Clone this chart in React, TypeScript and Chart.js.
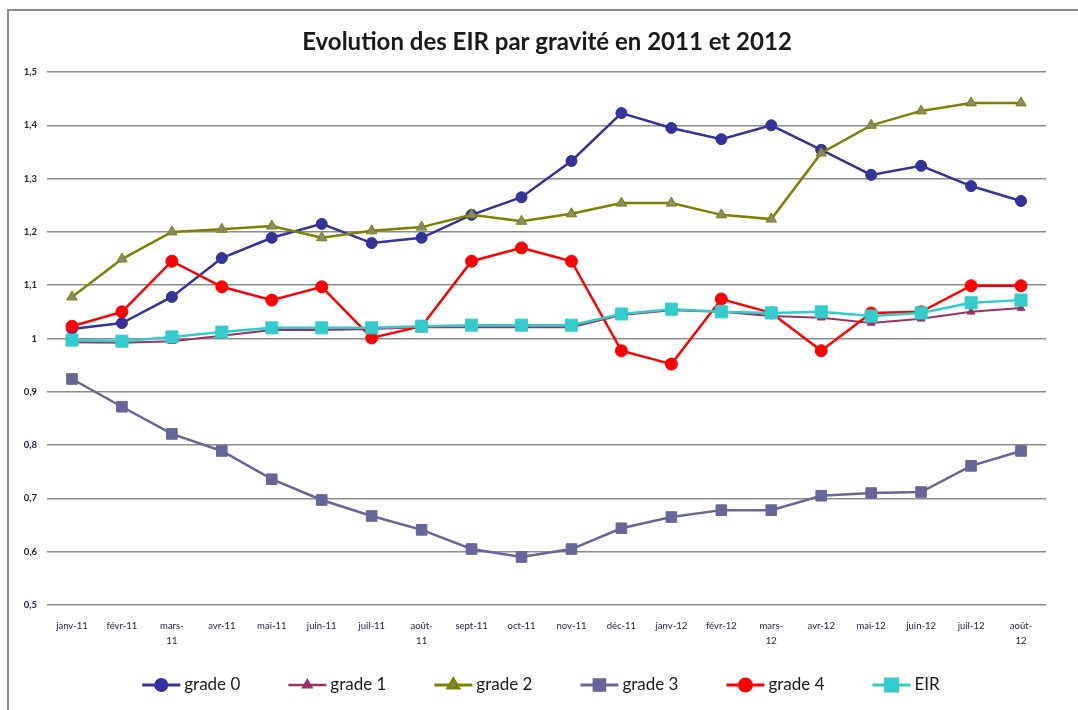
import React, { useEffect, useRef } from "react";
import { Chart, registerables } from "chart.js";
import { drawPoint } from "chart.js/helpers";

Chart.register(...registerables);

const chartTitle = "Evolution des EIR par gravité en 2011 et 2012";

const categories: (string | string[])[] = [
  "janv-11", "févr-11", ["mars-", "11"], "avr-11", "mai-11", "juin-11", "juil-11", ["août-", "11"],
  "sept-11", "oct-11", "nov-11", "déc-11", "janv-12", "févr-12", ["mars-", "12"], "avr-12",
  "mai-12", "juin-12", "juil-12", ["août-", "12"],
];

const yTickLabels = ["0,5", "0,6", "0,7", "0,8", "0,9", "1", "1,1", "1,2", "1,3", "1,4", "1,5"];

const grade0 = [1.018, 1.029, 1.078, 1.151, 1.189, 1.215, 1.179, 1.189, 1.232, 1.265, 1.333, 1.423, 1.395, 1.374, 1.400, 1.354, 1.307, 1.324, 1.286, 1.258];
const grade1 = [0.993, 0.992, 0.995, 1.005, 1.016, 1.016, 1.018, 1.021, 1.021, 1.021, 1.021, 1.044, 1.053, 1.050, 1.042, 1.039, 1.029, 1.037, 1.050, 1.057];
const grade2 = [1.078, 1.149, 1.200, 1.205, 1.211, 1.189, 1.202, 1.209, 1.232, 1.220, 1.234, 1.254, 1.254, 1.232, 1.224, 1.348, 1.400, 1.427, 1.442, 1.442];
const grade3 = [0.924, 0.872, 0.821, 0.789, 0.736, 0.697, 0.667, 0.641, 0.605, 0.590, 0.605, 0.644, 0.665, 0.678, 0.678, 0.705, 0.710, 0.712, 0.761, 0.789];
const grade4 = [1.023, 1.050, 1.145, 1.097, 1.072, 1.097, 1.001, 1.023, 1.145, 1.170, 1.145, 0.977, 0.952, 1.074, 1.048, 0.977, 1.048, 1.050, 1.099, 1.099];
const eir = [0.997, 0.995, 1.003, 1.012, 1.020, 1.020, 1.020, 1.023, 1.025, 1.025, 1.025, 1.046, 1.055, 1.050, 1.048, 1.050, 1.042, 1.048, 1.067, 1.072];

const FONT = "Lato, 'Open Sans', sans-serif";

const frameTitleLegend = {
  id: "frameTitleLegend",
  beforeDraw(chart: any) {
    const ctx = chart.ctx;
    ctx.save();
    ctx.fillStyle = "#ffffff";
    ctx.fillRect(0, 0, chart.width, chart.height);
    ctx.strokeStyle = "#8c8c8c";
    ctx.lineWidth = 2;
    ctx.beginPath();
    ctx.moveTo(8, chart.height);
    ctx.lineTo(8, 10);
    ctx.lineTo(chart.width, 10);
    ctx.stroke();
    ctx.restore();
  },
  afterDraw(chart: any) {
    const ctx = chart.ctx;
    ctx.save();
    // title
    ctx.font = `bold 24px ${FONT}`;
    ctx.fillStyle = "#1a1a1a";
    ctx.textAlign = "center";
    ctx.textBaseline = "middle";
    ctx.fillText(chartTitle, 547, 42);
    // legend
    ctx.textAlign = "left";
    ctx.font = `17px ${FONT}`;
    const lineLen = 38, textGap = 4, itemGap = 48;
    const items = chart.data.datasets.map((ds: any) => ({ ds, w: ctx.measureText(ds.label).width }));
    const total = items.reduce((s: number, it: any) => s + lineLen + textGap + it.w, 0) + itemGap * (items.length - 1);
    let x = (chart.width - total) / 2 + 2;
    const y = 685;
    items.forEach(({ ds, w }: any) => {
      ctx.strokeStyle = ds.borderColor;
      ctx.lineWidth = ds.borderWidth + 0.5;
      ctx.beginPath();
      ctx.moveTo(x, y);
      ctx.lineTo(x + lineLen, y);
      ctx.stroke();
      ctx.fillStyle = ds.pointBackgroundColor;
      ctx.strokeStyle = ds.pointBorderColor;
      drawPoint(ctx, { pointStyle: ds.pointStyle, radius: ds.pointRadius, rotation: 0, borderWidth: ds.pointBorderWidth }, x + lineLen / 2, y);
      ctx.fillStyle = "#1a1a1a";
      ctx.fillText(ds.label, x + lineLen + textGap, y);
      x += lineLen + textGap + w + itemGap;
    });
    ctx.restore();
  },
};

function makeDataset(label: string, data: number[], color: string, style: string, radius: number, fill: string, order: number, width = 2.5) {
  return {
    label,
    data,
    borderColor: color,
    backgroundColor: color,
    borderWidth: width,
    pointStyle: style,
    pointRadius: radius,
    pointHoverRadius: radius,
    pointBackgroundColor: fill,
    pointBorderColor: color,
    pointBorderWidth: 1,
    tension: 0,
    order,
  };
}

export default function App() {
  const ref = useRef<HTMLCanvasElement>(null);
  useEffect(() => {
    if (!ref.current) return;
    const chart = new Chart(ref.current, {
      type: "line",
      data: {
        labels: categories as any,
        datasets: [
          makeDataset("grade 0", grade0, "#333399", "circle", 5.5, "#333399", 5),
          makeDataset("grade 1", grade1, "#993366", "triangle", 4.5, "#993366", 4, 2),
          makeDataset("grade 2", grade2, "#808000", "triangle", 6, "#8a8a6a", 3),
          makeDataset("grade 3", grade3, "#666699", "rect", 7.5, "#666699", 2),
          makeDataset("grade 4", grade4, "#ff0000", "circle", 6, "#ff0000", 1),
          makeDataset("EIR", eir, "#33cccc", "rect", 8.5, "#33cccc", 0),
        ] as any,
      },
      options: {
        responsive: false,
        animation: false,
        layout: { padding: { left: 0, right: 32, top: 72, bottom: 55 } },
        plugins: {
          legend: { display: false },
          tooltip: { enabled: false },
          title: { display: false },
        },
        scales: {
          x: {
            offset: true,
            grid: { display: false, drawTicks: false },
            border: { display: false },
            ticks: {
              autoSkip: false,
              maxRotation: 0,
              minRotation: 0,
              padding: 14,
              color: "#1f1f3f",
              font: { family: FONT, size: 9.5, lineHeight: 1.55 },
            },
            afterFit: (scale: any) => { scale.height = 50; },
          },
          y: {
            min: 0.5,
            max: 1.5,
            ticks: {
              stepSize: 0.1,
              padding: 10,
              color: "#1f1f3f",
              font: { family: FONT, size: 9.5, weight: "bold" },
              callback: (_v: any, i: number) => yTickLabels[i],
            },
            grid: { color: "#8c8c8c", lineWidth: 1.5, drawTicks: false },
            border: { display: false },
            afterFit: (scale: any) => { scale.width = 47; },
          },
        },
      },
      plugins: [frameTitleLegend],
    });
    return () => chart.destroy();
  }, []);
  return (
    <div style={{ position: "absolute", left: 0, top: 0, width: 1078, height: 710 }}>
      <canvas ref={ref} width={1078} height={710} />
    </div>
  );
}
